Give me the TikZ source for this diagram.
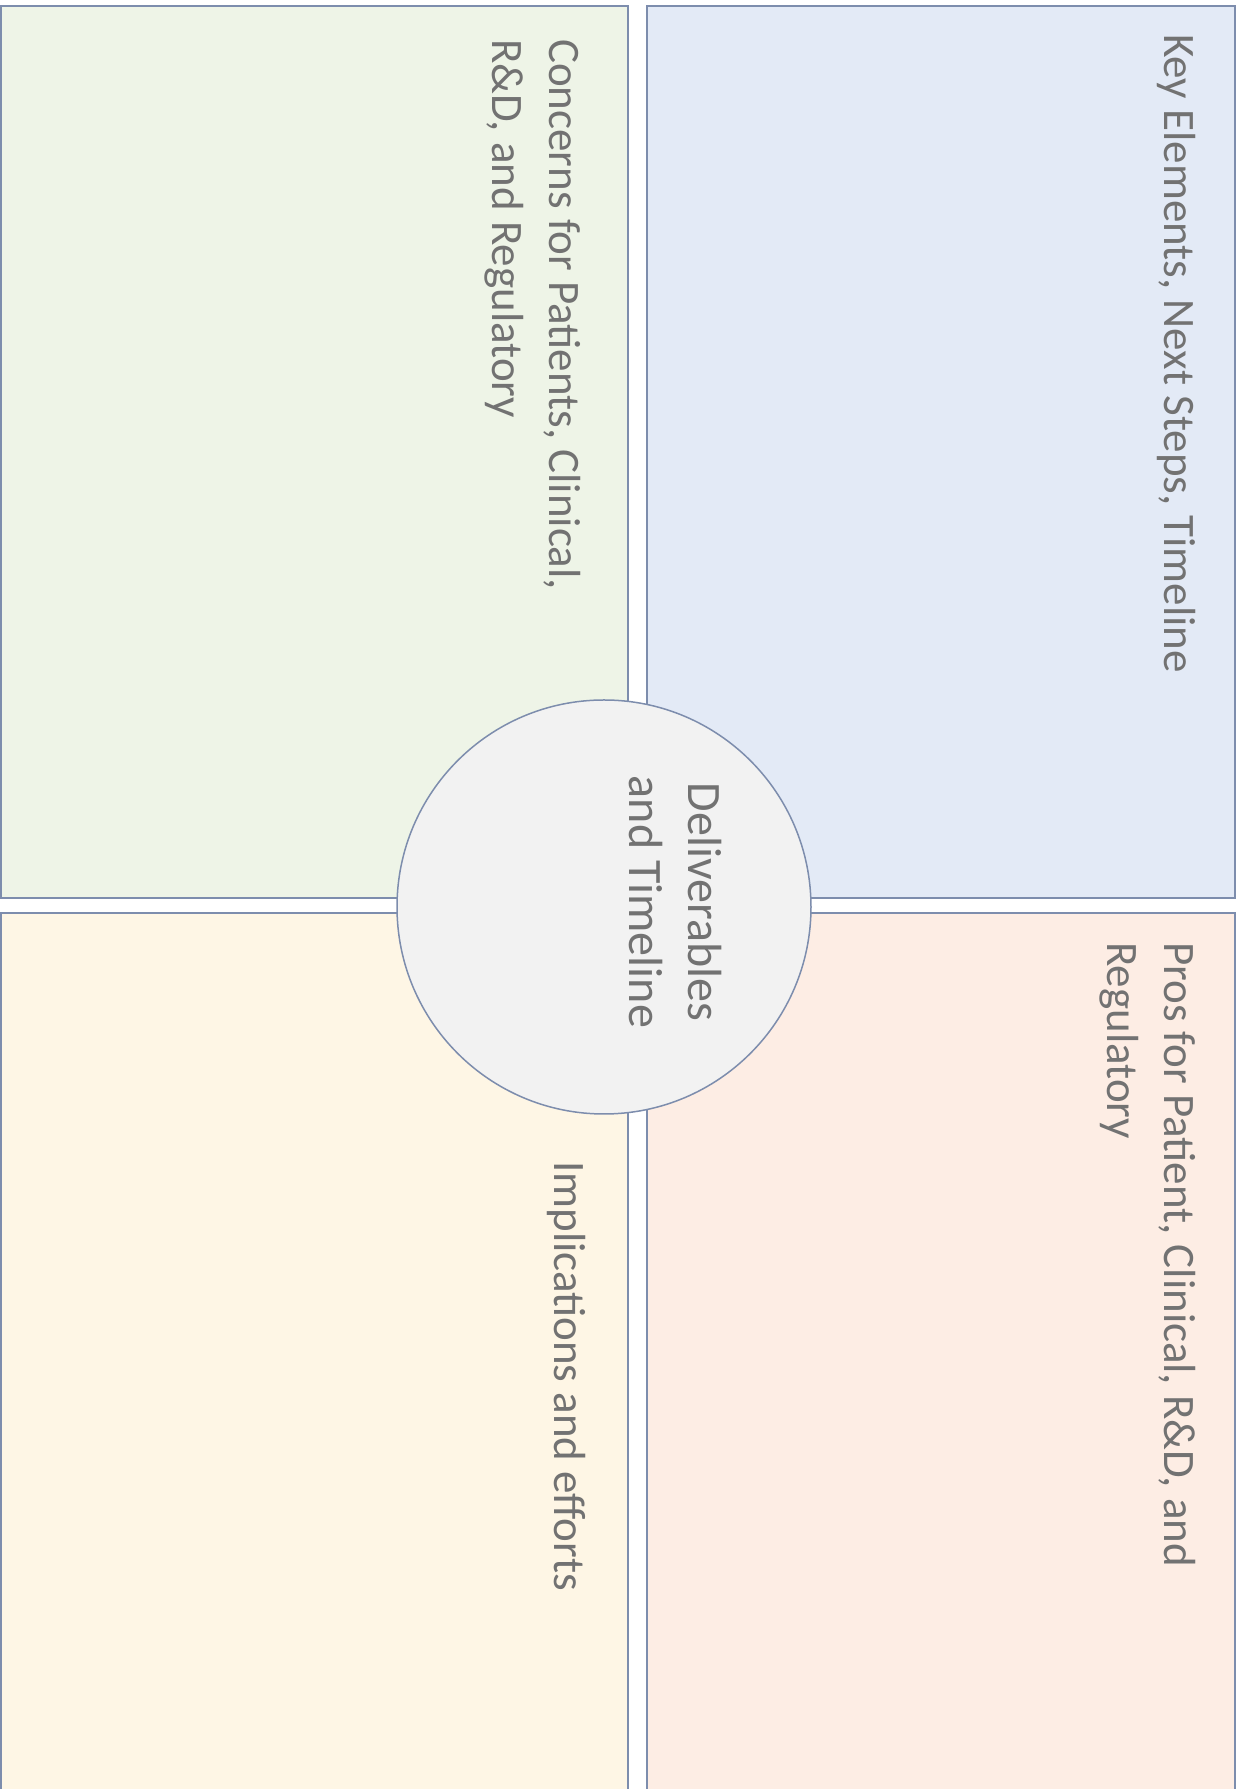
\documentclass[tikz,border=0pt]{standalone}
\usepackage{fontspec}
\setmainfont{Carlito}
\definecolor{fgreen}{HTML}{EEF4E7}
\definecolor{fblue}{HTML}{E3EAF6}
\definecolor{fyellow}{HTML}{FEF6E5}
\definecolor{fpink}{HTML}{FDEDE4}
\definecolor{fcircle}{HTML}{F2F2F2}
\definecolor{bord}{HTML}{7D8DAD}
\definecolor{txt}{HTML}{727272}
\tikzset{
  quad/.style={draw=bord, line width=2.6pt},
  lbl/.style={rotate=-90, inner sep=0pt, text=txt, align=left, anchor=north west,
    font=\fontsize{45}{57}\selectfont},
}
\begin{document}
\begin{tikzpicture}[x=1pt,y=1pt]
\useasboundingbox (0,0) rectangle (1241,1789);
\fill[white] (0,0) rectangle (1241,1789);
% quadrants
\draw[quad, fill=fgreen] (1,1783) rectangle (628,891);
\draw[quad, fill=fblue] (647,1783) rectangle (1235,891);
\draw[quad, fill=fyellow] (1,876) rectangle (628,-3);
\draw[quad, fill=fpink] (647,876) rectangle (1235,-3);
% centre
\node[circle, draw=bord, line width=1.5pt, fill=fcircle, minimum size=414pt, inner sep=0pt] (hub) at (604,882) {};
% labels
\node[lbl] (tkey) at (1196,1755) {Key Elements, Next Steps, Timeline};
\node[lbl] (tpros) at (1196,847) {Pros for Patient, Clinical, R\&D, and\\Regulatory};
\node[lbl] (tconc) at (581,1750) {Concerns for Patients, Clinical,\\R\&D, and Regulatory};
\node[lbl] (timpl) at (586,628) {Implications and efforts};
\node[lbl, align=center, anchor=north, font=\fontsize{48}{59}\selectfont] (thub) at (722,887) {Deliverables\\and Timeline};
\end{tikzpicture}
\end{document}
